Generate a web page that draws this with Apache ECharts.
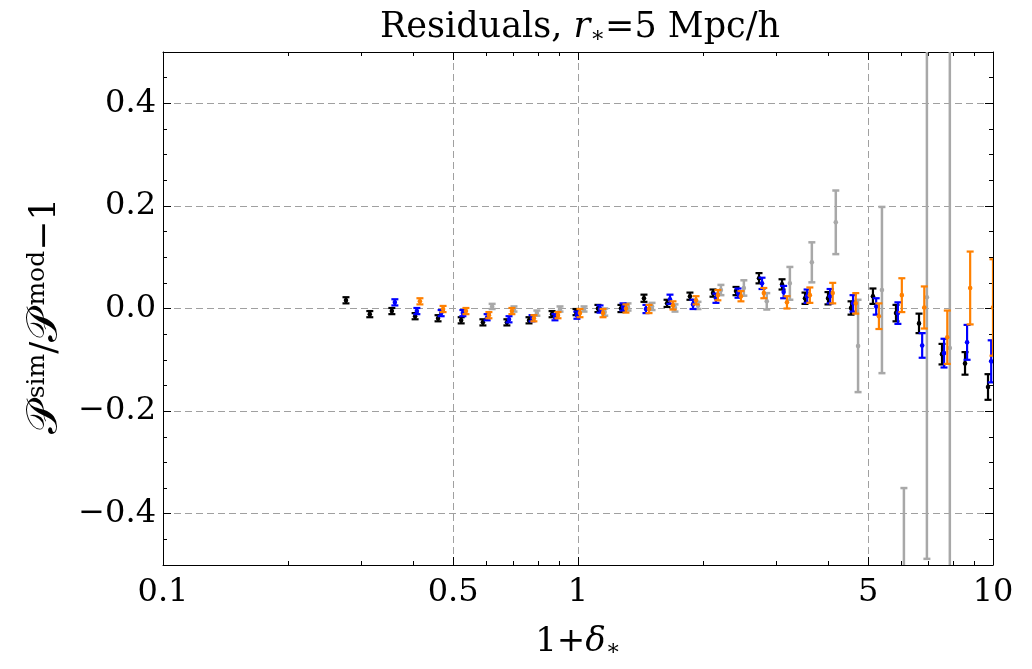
<!DOCTYPE html>
<html><head><meta charset="utf-8">
<script src="https://cdn.jsdelivr.net/npm/echarts@6/dist/echarts.min.js"></script>
<style>html,body{margin:0;padding:0;background:#fff}#c{width:1032px;height:669px}</style>
</head><body><div id="c"></div>
<script>
// ---- data (x = 1+delta, y = residual, e = error) ----
const blackX = [0.276,0.315,0.356,0.405,0.460,0.523,0.590,0.674,0.762,0.866,0.989,1.117,1.269,1.442,1.639,1.861,2.115,2.403,2.730,3.102,3.524,4.003,4.549,5.137,5.838,6.633,7.536,8.562,9.727];
const blackY = [0.016,-0.011,-0.005,-0.015,-0.019,-0.023,-0.027,-0.027,-0.023,-0.011,-0.007,0.000,0.000,0.020,0.010,0.024,0.030,0.034,0.059,0.047,0.020,0.020,0.001,0.024,-0.009,-0.029,-0.089,-0.107,-0.153];
const blackE = [0.006,0.006,0.006,0.006,0.006,0.006,0.006,0.006,0.006,0.006,0.006,0.007,0.007,0.007,0.007,0.007,0.007,0.008,0.010,0.010,0.011,0.012,0.013,0.015,0.016,0.019,0.020,0.022,0.025];

const blueX = [0.362,0.409,0.468,0.528,0.604,0.682,0.775,0.880,0.994,1.130,1.284,1.458,1.666,1.893,2.150,2.430,2.776,3.130,3.565,4.050,4.600,5.230,5.900,6.750,7.620,8.660,9.900];
const blueY = [0.012,-0.005,-0.009,-0.009,-0.017,-0.021,-0.019,-0.017,-0.013,-0.001,0.003,-0.001,0.018,0.008,0.020,0.030,0.049,0.032,0.024,0.024,0.010,0.004,-0.009,-0.072,-0.087,-0.066,-0.103];
const blueE = [0.006,0.006,0.006,0.006,0.006,0.006,0.006,0.006,0.007,0.007,0.007,0.008,0.009,0.009,0.009,0.009,0.011,0.012,0.013,0.014,0.016,0.016,0.021,0.024,0.028,0.034,0.041];

const orangeX = [0.416,0.473,0.537,0.610,0.693,0.783,0.895,1.011,1.149,1.305,1.483,1.694,1.925,2.173,2.470,2.804,3.188,3.620,4.110,4.670,5.310,6.030,6.830,7.760,8.810,10.00];
const orangeY = [0.014,-0.001,-0.005,-0.013,-0.005,-0.019,-0.013,-0.009,-0.009,0.000,-0.001,0.006,0.016,0.026,0.024,0.030,0.012,0.026,0.030,0.010,-0.015,0.026,0.002,-0.056,0.040,0.002];
const orangeE = [0.006,0.006,0.006,0.006,0.006,0.006,0.006,0.008,0.008,0.008,0.008,0.008,0.008,0.010,0.010,0.010,0.012,0.015,0.020,0.020,0.025,0.033,0.041,0.052,0.071,0.094];

const grayX = [0.621,0.701,0.796,0.905,1.034,1.160,1.320,1.508,1.713,1.946,2.210,2.510,2.850,3.240,3.660,4.180,4.730,5.400,6.100,6.930,7.870];
const grayY = [0.004,-0.001,-0.009,-0.001,-0.001,-0.007,0.003,0.004,0.001,0.006,0.036,0.040,0.014,0.049,0.090,0.168,-0.073,0.036,-0.620,0.022,-0.077];
const grayE = [0.005,0.005,0.005,0.005,0.005,0.007,0.007,0.007,0.007,0.007,0.010,0.015,0.016,0.032,0.039,0.062,0.090,0.162,0.270,0.510,0.800];

// ---- ticks ----
const xMajorTicks = [0.1, 0.5, 1, 5, 10];
const xTickLabels = ['0.1', '0.5', '1', '5', '10'];
const xMinorTicks = [0.2,0.3,0.4,0.6,0.7,0.8,0.9,2,3,4,6,7,8,9];
const yMajorTicks = [-0.4,-0.2,0,0.2,0.4];
const yTickLabels = ['\u22120.4','\u22120.2','0.0','0.2','0.4'];
const yMinorTicks = [-0.45,-0.35,-0.3,-0.25,-0.15,-0.1,-0.05,0.05,0.1,0.15,0.25,0.3,0.35,0.45];

const FONT = 'DejaVu Serif';
const GRID = {left:163, right:39, top:52, bottom:104};
const dashStyle = {color:'#a0a0a0', width:1, type:[7,4]};

const lg = v => Math.log10(v);
const xMajLog = xMajorTicks.map(lg);
const xMinLog = xMinorTicks.map(lg);

function xDecor(pos, major, withLabel, showLine) {
  return {
    type:'value', min:-1, max:1, position:pos, gridIndex:0,
    axisLine:{show:showLine, onZero:false, lineStyle:{color:'#000', width:1}},
    axisTick:{show:true, inside:true, length: major ? 8 : 4, customValues: major ? xMajLog : xMinLog, lineStyle:{color:'#000', width:1}},
    axisLabel: withLabel ? {show:true, customValues:xMajLog, margin:12, color:'#000', fontFamily:FONT, fontSize:32,
      formatter: v => { let best=0, d=1e9; xMajLog.forEach((t,i)=>{ if (Math.abs(t-v)<d){d=Math.abs(t-v);best=i;} }); return xTickLabels[best]; }} : {show:false},
    splitLine: (withLabel) ? {show:true, lineStyle:dashStyle} : {show:false}
  };
}
function yDecor(pos, major, withLabel, showLine) {
  return {
    type:'value', min:-0.5, max:0.5, position:pos, gridIndex:0,
    axisLine:{show:showLine, onZero:false, lineStyle:{color:'#000', width:1}},
    axisTick:{show:true, inside:true, length: major ? 8 : 4, customValues: major ? yMajorTicks : yMinorTicks, lineStyle:{color:'#000', width:1}},
    axisLabel: withLabel ? {show:true, customValues:yMajorTicks, margin:7, color:'#000', fontFamily:FONT, fontSize:32,
      formatter: v => { let best=0, d=1e9; yMajorTicks.forEach((t,i)=>{ if (Math.abs(t-v)<d){d=Math.abs(t-v);best=i;} }); return yTickLabels[best]; }} : {show:false},
    splitLine: withLabel ? {show:true, lineStyle:dashStyle} : {show:false}
  };
}

function errSeries(name, xs, ys, es, color, lw, z) {
  const data = xs.map((x,i)=>[x, ys[i], es[i]]);
  return {
    type:'custom', name, xAxisIndex:0, yAxisIndex:0, data, z, clip:true,
    encode:{x:0, y:1},
    renderItem:(params, api) => {
      const x = api.value(0), y = api.value(1), e = api.value(2);
      const p = api.coord([x, y]), hi = api.coord([x, y+e]), lo = api.coord([x, y-e]);
      const cw = 3.5;
      const st = {stroke:color, lineWidth:lw};
      return {type:'group', children:[
        {type:'line', shape:{x1:p[0], y1:hi[1], x2:p[0], y2:lo[1]}, style:st},
        {type:'line', shape:{x1:p[0]-cw, y1:hi[1], x2:p[0]+cw, y2:hi[1]}, style:st},
        {type:'line', shape:{x1:p[0]-cw, y1:lo[1], x2:p[0]+cw, y2:lo[1]}, style:st},
        {type:'circle', shape:{cx:p[0], cy:p[1], r:2.3}, style:{fill:color}}
      ]};
    }
  };
}

const chart = echarts.init(document.getElementById('c'), null, {renderer:'canvas'});
chart.setOption({
  backgroundColor:'#fff',
  animation:false,
  grid:GRID,
  xAxis:[
    {type:'log', logBase:10, min:0.1, max:10, show:false, gridIndex:0},
    xDecor('bottom', true, true, true),
    xDecor('bottom', false, false, false),
    xDecor('top', true, false, true),
    xDecor('top', false, false, false)
  ],
  yAxis:[
    yDecor('left', true, true, true),
    yDecor('left', false, false, false),
    yDecor('right', true, false, true),
    yDecor('right', false, false, false)
  ],
  series:[
    errSeries('gray', grayX, grayY, grayE, '#a8a8a8', 2.5, 2),
    errSeries('black', blackX, blackY, blackE, '#000000', 2.2, 3),
    errSeries('blue', blueX, blueY, blueE, '#0000ff', 2.2, 4),
    errSeries('orange', orangeX, orangeY, orangeE, '#ff8000', 2.2, 5)
  ],
  graphic:[
    {type:'text', x:580, y:28, style:{
      text:'Residuals, {i|r}{s|\u2217}=5 Mpc/h', fill:'#000', font:'35px "DejaVu Serif"', align:'center', verticalAlign:'middle',
      rich:{i:{fontStyle:'italic', fontFamily:FONT, fontSize:35}, s:{fontFamily:FONT, fontSize:22, padding:[16,0,0,0]}}
    }},
    {type:'text', x:578, y:642, style:{
      text:'1+{i|\u03b4}{s|\u2217}', fill:'#000', font:'34px "DejaVu Serif"', align:'center', verticalAlign:'middle',
      rich:{i:{fontStyle:'italic', fontFamily:FONT, fontSize:34}, s:{fontFamily:FONT, fontSize:22, padding:[14,0,0,0]}}
    }},
    {type:'text', x:46, y:316, rotation:Math.PI/2, style:{
      text:'{P|\ud835\udcab}{u|sim}{n|/}{P|\ud835\udcab}{u|mod}{n|\u22121}', fill:'#000', font:'34px "DejaVu Serif"', align:'center', verticalAlign:'middle',
      rich:{P:{fontFamily:FONT, fontSize:44, padding:[0,4,0,0]}, u:{fontFamily:FONT, fontSize:25, padding:[0,0,18,0]}, n:{fontFamily:FONT, fontSize:36}}
    }}
  ]
});
</script>
</body></html>
